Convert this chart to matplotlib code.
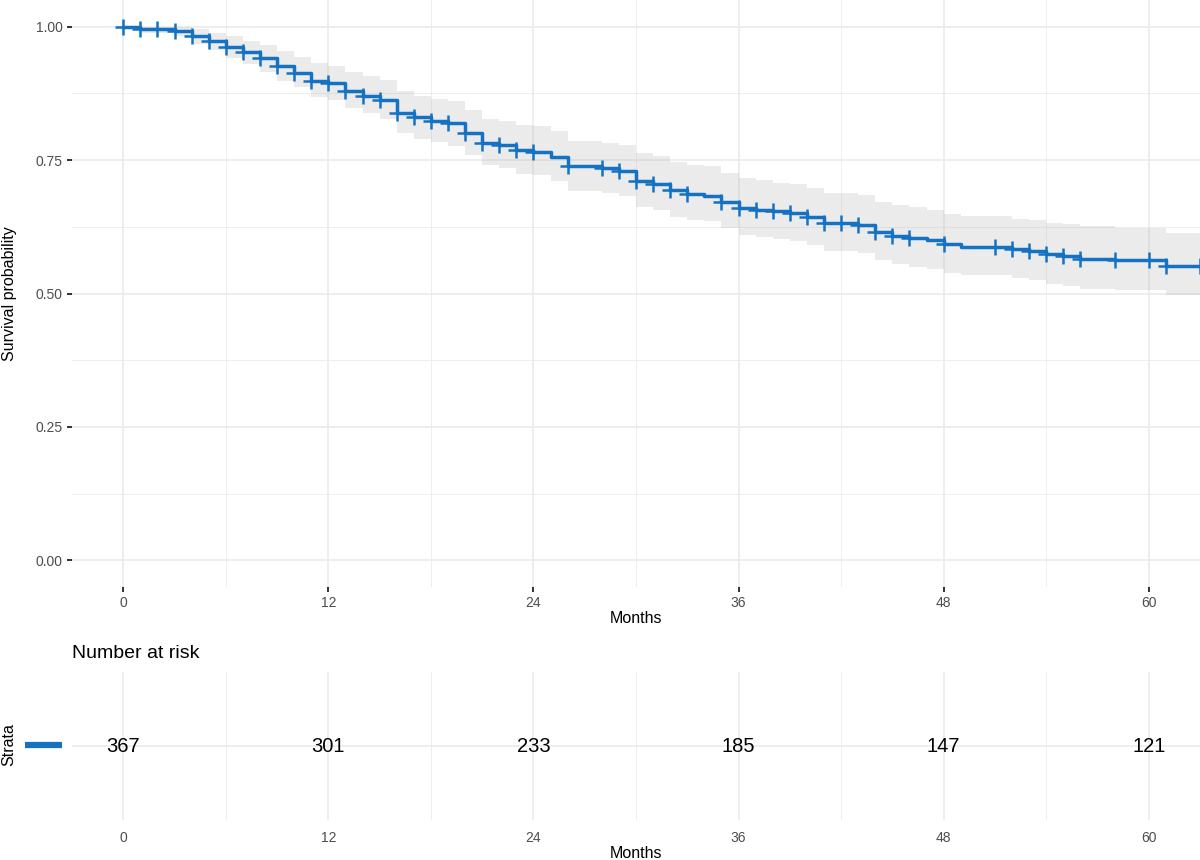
import numpy as np
import matplotlib
matplotlib.use("Agg")
import matplotlib.pyplot as plt
from matplotlib.lines import Line2D

plt.rcParams["font.family"] = ["Liberation Sans", "DejaVu Sans"]

# Kaplan-Meier estimate (step times in months, level after each step)
times = [0, 1, 3, 4, 5, 6, 7, 8, 9, 10, 11, 12, 13, 14, 15, 16, 17, 18, 19, 20,
         21, 22, 23, 24, 25, 26, 28, 29, 30, 31, 32, 33, 34, 35, 36, 37, 38, 39,
         40, 41, 43, 44, 45, 46, 47, 48, 49, 52, 53, 54, 55, 56, 58, 61]
surv = [1.000, 0.996, 0.991, 0.982, 0.9725, 0.962, 0.952, 0.941, 0.926, 0.914,
        0.899, 0.894, 0.880, 0.871, 0.863, 0.839, 0.830, 0.823, 0.819, 0.801,
        0.782, 0.779, 0.768, 0.765, 0.756, 0.738, 0.735, 0.729, 0.711, 0.705,
        0.694, 0.686, 0.683, 0.672, 0.661, 0.657, 0.654, 0.650, 0.643, 0.632,
        0.629, 0.616, 0.608, 0.604, 0.600, 0.592, 0.587, 0.583, 0.579, 0.574,
        0.570, 0.564, 0.562, 0.552]
upper = [1.000, 1.000, 1.000, 0.995, 0.989, 0.982, 0.974, 0.966, 0.954, 0.944,
         0.932, 0.927, 0.916, 0.908, 0.901, 0.879, 0.871, 0.864, 0.860, 0.844,
         0.827, 0.824, 0.816, 0.813, 0.804, 0.785, 0.782, 0.779, 0.763, 0.757,
         0.747, 0.741, 0.739, 0.726, 0.716, 0.713, 0.708, 0.705, 0.697, 0.688,
         0.685, 0.672, 0.666, 0.662, 0.657, 0.649, 0.645, 0.640, 0.638, 0.633,
         0.630, 0.627, 0.622, 0.613]
lower = [1.000, 0.988, 0.983, 0.967, 0.956, 0.941, 0.931, 0.916, 0.899, 0.887,
         0.868, 0.862, 0.848, 0.838, 0.827, 0.800, 0.789, 0.783, 0.777, 0.760,
         0.740, 0.735, 0.724, 0.722, 0.710, 0.692, 0.688, 0.682, 0.663, 0.657,
         0.644, 0.637, 0.635, 0.622, 0.610, 0.605, 0.602, 0.599, 0.591, 0.579,
         0.575, 0.563, 0.555, 0.550, 0.546, 0.538, 0.534, 0.529, 0.525, 0.518,
         0.514, 0.508, 0.506, 0.497]
t_end = 63

# censoring times
censor_times = list(range(0, 25)) + [26, 28, 29, 30, 31, 32, 33, 35, 36, 37,
                                     38, 39, 40, 41, 42, 43, 44, 45, 46, 48,
                                     51, 52, 53, 54, 55, 56, 58, 60, 61, 63]

# number at risk table
risk_times = [0, 12, 24, 36, 48, 60]
n_risk = [367, 301, 233, 185, 147, 121]

BLUE = "#1572C2"
GRID = "#EBEBEB"
TICK_TXT = "#4D4D4D"

W, H = 1200, 860
fig = plt.figure(figsize=(W / 100, H / 100), dpi=100)


def px_axes(x0, y0, x1, y1):
    return fig.add_axes([x0 / W, 1 - y1 / H, (x1 - x0) / W, (y1 - y0) / H])


def style_axes(ax):
    for s in ax.spines.values():
        s.set_visible(False)
    ax.set_xlim(-3, 63)
    ax.set_xticks(range(0, 61, 12))
    ax.set_xticks(range(6, 61, 12), minor=True)
    ax.grid(True, which="major", color=GRID, lw=1.2)
    ax.grid(True, which="minor", color=GRID, lw=0.6)
    ax.set_axisbelow(True)
    ax.tick_params(axis="both", which="minor", length=0)
    ax.tick_params(axis="both", which="major", labelsize=10, labelcolor=TICK_TXT,
                   color="#222222", length=3.5, width=1.3, pad=3)


# ---- survival curve ----
ax = px_axes(72, 0, 1200, 587)
style_axes(ax)
ax.set_ylim(-0.05, 1.05)
ax.set_yticks([0, 0.25, 0.5, 0.75, 1.0])
ax.set_yticks([0.125, 0.375, 0.625, 0.875], minor=True)
ax.set_yticklabels(["0.00", "0.25", "0.50", "0.75", "1.00"])

tx = times + [t_end]
ax.fill_between(tx, lower + [lower[-1]], upper + [upper[-1]], step="post",
                color="#B0B0B0", alpha=0.25, lw=0)
ax.step(tx, surv + [surv[-1]], where="post", color=BLUE, lw=2.5)

c_y = [surv[np.searchsorted(times, c, side="right") - 1] for c in censor_times]
ax.plot(censor_times, c_y, ls="none", marker="+", ms=11, mew=1.8, color=BLUE)

ax.set_xlabel("Months", fontsize=11.5, labelpad=1)
ax.set_ylabel("Survival probability", fontsize=11.5)
ax.yaxis.set_label_coords((17 - 72) / 1128, 0.5)

# ---- number at risk table ----
rt = px_axes(72, 672, 1200, 820)
style_axes(rt)
rt.set_ylim(0.4, 1.6)
rt.set_yticks([1])
rt.set_yticklabels([""])
rt.tick_params(axis="both", which="major", length=0, pad=8)
for t, n in zip(risk_times, n_risk):
    rt.text(t, 1, str(n), ha="center", va="center", fontsize=14.5, color="black")
rt.set_xlabel("Months", fontsize=11.5, labelpad=1)

fig.text(72 / W, 1 - 654 / H, "Number at risk", fontsize=14, va="center", ha="left")
fig.text(9 / W, 1 - 745 / H, "Strata", fontsize=11.5, rotation=90,
         va="center", ha="center")
fig.add_artist(Line2D([25 / W, 62 / W], [1 - 745 / H, 1 - 745 / H],
                      color=BLUE, lw=4.5, solid_capstyle="butt"))

fig.savefig("out.png", dpi=100, facecolor="white")
